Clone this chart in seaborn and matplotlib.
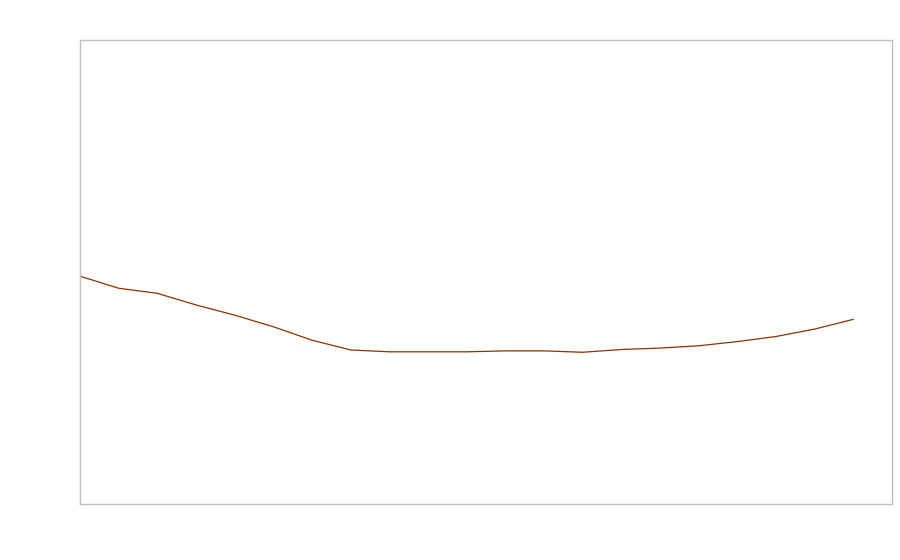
import matplotlib
matplotlib.use("Agg")
import matplotlib.pyplot as plt
import seaborn as sns
import pandas as pd

# ================= DATA =================
periods = list(range(21))
values = [49.1, 46.5, 45.4, 42.9, 40.7, 38.2, 35.3, 33.2, 32.8, 32.8,
          32.8, 33.0, 33.0, 32.7, 33.3, 33.6, 34.1, 35.0, 36.1, 37.7, 39.8]
# ========================================

LINE_COLOR = "#8c3300"
FRAME_COLOR = "#c0c0c0"


def main():
    df = pd.DataFrame({"period": periods, "value": values})

    sns.set_style("white")
    fig = plt.figure(figsize=(9, 5.6), dpi=100)
    ax = fig.add_axes([80 / 900, 56 / 560, 812 / 900, 464 / 560])

    sns.lineplot(data=df, x="period", y="value", ax=ax,
                 color=LINE_COLOR, linewidth=0.9)

    ax.set_xlim(0, 21)
    ax.set_ylim(0, 100)
    ax.set_xticks([])
    ax.set_yticks([])
    ax.set_xlabel("")
    ax.set_ylabel("")
    for spine in ax.spines.values():
        spine.set_visible(True)
        spine.set_color(FRAME_COLOR)
        spine.set_linewidth(1)

    fig.savefig("out.png", dpi=100)
    plt.close(fig)


if __name__ == "__main__":
    main()
